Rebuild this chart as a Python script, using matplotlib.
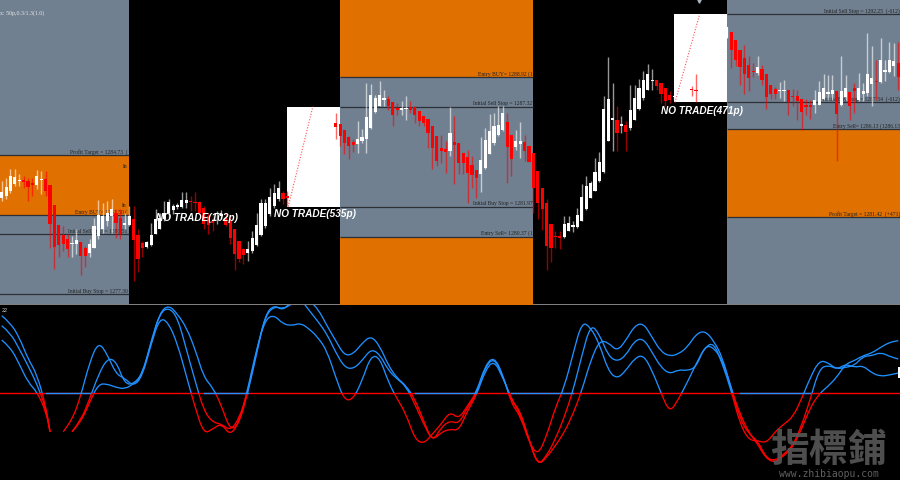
#!/usr/bin/env python3

import numpy as np
import matplotlib
matplotlib.use("Agg")
import matplotlib.pyplot as plt
from matplotlib.patches import PathPatch, Rectangle
from matplotlib.path import Path

nan = float("nan")

# candles, one entry per bar (nan = bar hidden behind the white NO TRADE boxes)
opens = [
    1282.41, 1282.54, 1282.80, 1283.19, 1283.32, 1283.41, 1283.35, 1283.23, 1283.14, 1283.39,
    1283.42, 1283.10, 1282.07, 1280.97, 1280.47, 1280.23, 1279.96, 1279.96, 1280.08, 1279.73,
    1279.51, 1279.73, 1280.40, 1280.76, 1281.20, 1281.47, 1281.65, 1281.38, 1280.99, 1281.01,
    1281.29, 1280.47, 1280.01, 1279.83, 1279.94, 1280.49, 1280.76, 1281.29, 1281.65, 1281.79,
    1281.95, 1281.97, 1282.14, 1282.25, 1282.22, 1282.22, 1281.91, 1281.47, 1281.20, 1281.56,
    1281.47, 1281.38, 1281.20, 1280.76, 1280.14, 1279.69, 1279.48, 1279.59, 1279.92, 1280.44,
    1280.94, 1281.56, 1282.00, 1282.36, 1282.68, 1282.54,
    nan, nan, nan, nan, nan, nan, nan, nan, nan, nan,
    1286.45, 1286.39, 1286.05, 1285.70, 1285.45, 1285.34, 1285.47, 1285.59, 1286.16, 1287.01,
    1287.37, 1287.65, 1287.72, 1287.56, 1287.24, 1287.16, 1287.19, 1287.28, 1287.28, 1287.07,
    1286.84, 1286.66, 1286.30, 1285.72, 1285.08, 1285.04, 1284.93, 1285.45, 1285.36, 1284.85,
    1284.60, 1284.19, 1283.94, 1283.69, 1284.05, 1284.76, 1285.36, 1285.79, 1286.04, 1286.52,
    1285.82, 1285.15, 1285.31, 1285.43, 1285.22, 1284.81, 1283.89, 1282.94, 1282.14, 1281.03,
    1280.39, 1280.40, 1280.35, 1280.67, 1280.88, 1280.88, 1281.20, 1281.82, 1282.41, 1282.80,
    1283.34, 1283.82, 1285.47, 1286.61, 1286.62, 1286.27, 1286.36, 1286.16, 1286.62, 1287.19,
    1287.76, 1288.22, 1288.67, 1288.72, 1288.58, 1288.31, 1287.94, 1287.83,
    nan, nan, nan, 1288.26, 1288.22, nan, nan, nan, nan, nan, nan,
    1290.98, 1291.33, 1290.89, 1290.35, 1289.91, 1289.55, 1289.22, 1289.11, 1289.34, 1289.08,
    1288.45, 1288.28, 1288.13, 1288.15, 1288.22, 1287.90, 1287.90, 1287.74, 1287.40, 1287.39,
    1287.40, 1287.42, 1287.74, 1288.01, 1288.01, 1288.15, 1287.42, 1287.83, 1288.12, 1288.31,
    1287.69, 1288.01, 1288.04, 1288.54, 1288.70, 1288.65, 1289.18, 1289.15, 1289.47, 1289.64,
]
closes = [
    1282.75, 1283.03, 1283.60, 1283.55, 1283.41, 1283.28, 1283.03, 1283.12, 1283.60, 1283.46,
    1282.78, 1281.03, 1279.82, 1279.91, 1279.96, 1279.69, 1280.01, 1280.19, 1279.32, 1279.35,
    1279.99, 1280.94, 1281.51, 1281.47, 1281.65, 1281.86, 1281.08, 1280.49, 1281.06, 1281.47,
    1280.19, 1279.19, 1279.73, 1280.08, 1280.47, 1281.33, 1281.38, 1281.65, 1282.22, 1282.00,
    1282.00, 1282.32, 1282.32, 1282.20, 1282.16, 1281.65, 1281.03, 1280.97, 1281.11, 1281.65,
    1281.56, 1280.97, 1280.31, 1279.43, 1279.19, 1279.39, 1279.69, 1280.28, 1280.99, 1282.18,
    1282.18, 1282.50, 1282.71, 1282.94, 1282.39, 1282.41,
    nan, nan, nan, nan, nan, nan, nan, nan, nan, nan,
    1286.25, 1285.73, 1285.38, 1285.20, 1285.27, 1285.61, 1285.70, 1286.76, 1287.96, 1287.76,
    1287.96, 1287.78, 1287.37, 1286.89, 1287.12, 1287.23, 1287.26, 1287.16, 1286.89, 1286.57,
    1286.45, 1285.91, 1285.11, 1284.40, 1284.93, 1284.88, 1285.91, 1285.25, 1284.29, 1284.31,
    1283.76, 1283.66, 1283.48, 1284.44, 1285.52, 1286.02, 1286.27, 1286.34, 1286.98, 1285.18,
    1284.49, 1285.50, 1285.50, 1284.97, 1284.35, 1282.96, 1282.18, 1281.82, 1279.85, 1279.75,
    1280.33, 1280.31, 1281.03, 1281.11, 1280.97, 1281.50, 1282.46, 1283.07, 1283.25, 1283.83,
    1284.35, 1287.21, 1287.72, 1286.68, 1285.91, 1286.41, 1285.98, 1287.12, 1287.78, 1288.31,
    1288.76, 1289.08, 1288.76, 1288.40, 1288.01, 1287.60, 1287.69, 1287.88,
    nan, nan, nan, 1288.19, 1288.13, nan, nan, nan, nan, nan, nan,
    1291.56, 1290.35, 1289.79, 1289.43, 1289.08, 1288.84, 1289.15, 1289.43, 1288.76, 1287.83,
    1288.01, 1288.01, 1288.22, 1288.22, 1287.58, 1287.83, 1287.60, 1287.03, 1287.30, 1287.28,
    1287.65, 1288.12, 1288.31, 1288.04, 1288.22, 1286.91, 1288.13, 1288.33, 1287.37, 1288.13,
    1288.33, 1288.15, 1289.08, 1288.83, 1288.63, 1289.82, 1289.25, 1289.79, 1289.77, 1288.90,
]
highs = [
    1283.34, 1283.51, 1283.99, 1283.96, 1283.69, 1283.60, 1283.51, 1283.51, 1283.92, 1283.87,
    1283.87, 1283.10, 1282.07, 1280.97, 1280.94, 1280.49, 1280.40, 1280.76, 1280.08, 1279.87,
    1280.23, 1281.38, 1282.32, 1282.18, 1282.27, 1282.36, 1281.82, 1281.82, 1281.65, 1282.00,
    1282.00, 1280.76, 1280.14, 1280.14, 1281.08, 1281.82, 1281.65, 1282.27, 1282.36, 1282.09,
    1282.18, 1282.77, 1282.75, 1282.54, 1282.75, 1282.27, 1282.00, 1281.65, 1281.47, 1281.74,
    1281.79, 1281.65, 1281.47, 1280.76, 1280.14, 1279.78, 1280.14, 1280.67, 1281.61, 1282.36,
    1282.36, 1282.98, 1283.16, 1283.34, 1282.80, 1282.80,
    nan, nan, nan, nan, nan, nan, nan, nan, nan, nan,
    1286.98, 1286.39, 1286.05, 1285.73, 1285.56, 1286.53, 1286.13, 1288.58, 1288.52, 1287.96,
    1288.70, 1288.22, 1287.87, 1287.56, 1287.51, 1287.60, 1287.87, 1287.60, 1287.33, 1287.07,
    1286.84, 1286.66, 1286.30, 1285.72, 1285.82, 1285.47, 1287.28, 1286.84, 1285.36, 1284.85,
    1285.02, 1284.67, 1283.94, 1285.68, 1286.18, 1286.94, 1286.98, 1287.33, 1287.37, 1286.98,
    1285.82, 1286.09, 1286.48, 1285.82, 1285.22, 1284.81, 1283.89, 1282.94, 1282.36, 1281.03,
    1280.67, 1280.67, 1281.47, 1281.47, 1281.20, 1281.91, 1283.16, 1283.60, 1283.34, 1284.58,
    1284.88, 1287.87, 1289.96, 1288.58, 1287.33, 1286.80, 1286.53, 1288.49, 1288.49, 1288.81,
    1289.20, 1289.59, 1289.34, 1288.76, 1288.58, 1288.31, 1288.13, 1287.96,
    nan, nan, nan, 1288.40, 1289.08, nan, nan, nan, nan, nan, nan,
    1291.56, 1291.33, 1290.89, 1290.35, 1290.62, 1290.00, 1289.64, 1290.05, 1289.55, 1289.08,
    1288.45, 1288.36, 1288.61, 1288.76, 1288.22, 1288.26, 1288.22, 1287.74, 1287.72, 1287.69,
    1288.22, 1288.67, 1289.08, 1289.02, 1289.02, 1288.15, 1290.00, 1289.02, 1288.12, 1288.58,
    1289.11, 1288.58, 1291.24, 1290.57, 1289.82, 1290.98, 1289.82, 1290.80, 1290.71, 1290.80,
]
lows = [
    1282.27, 1282.36, 1282.71, 1283.07, 1283.07, 1282.98, 1282.27, 1282.54, 1282.89, 1282.62,
    1282.54, 1279.78, 1278.63, 1279.25, 1279.60, 1279.25, 1279.30, 1279.43, 1278.31, 1278.72,
    1279.25, 1279.73, 1280.26, 1280.58, 1280.94, 1280.58, 1280.31, 1280.23, 1280.76, 1280.94,
    1278.00, 1278.45, 1279.25, 1279.78, 1279.87, 1280.49, 1280.76, 1281.20, 1281.38, 1281.56,
    1281.82, 1281.91, 1281.91, 1281.74, 1281.74, 1281.56, 1280.76, 1280.49, 1280.67, 1281.03,
    1281.29, 1280.94, 1279.96, 1278.59, 1278.98, 1278.89, 1279.07, 1279.51, 1279.87, 1280.40,
    1280.85, 1281.47, 1281.91, 1282.27, 1282.09, 1282.00,
    nan, nan, nan, nan, nan, nan, nan, nan, nan, nan,
    1285.56, 1285.20, 1284.76, 1284.53, 1284.88, 1284.85, 1285.38, 1284.85, 1286.13, 1286.98,
    1287.33, 1287.33, 1287.16, 1286.27, 1286.89, 1286.89, 1286.62, 1286.98, 1286.45, 1286.27,
    1286.27, 1285.11, 1283.96, 1284.13, 1284.31, 1283.78, 1284.67, 1283.16, 1283.69, 1283.69,
    1282.18, 1282.98, 1282.41, 1282.77, 1283.96, 1284.76, 1285.29, 1285.73, 1286.00, 1283.21,
    1283.60, 1285.02, 1284.58, 1284.40, 1284.35, 1281.65, 1281.29, 1280.72, 1278.59, 1278.98,
    1279.78, 1279.69, 1280.31, 1280.67, 1280.63, 1280.85, 1281.20, 1281.79, 1282.41, 1282.80,
    1283.30, 1283.78, 1285.47, 1284.93, 1284.93, 1285.91, 1284.93, 1286.09, 1286.62, 1287.16,
    1287.69, 1288.22, 1288.22, 1288.22, 1287.51, 1287.33, 1287.51, 1287.69,
    nan, nan, nan, 1287.90, 1287.55, nan, nan, nan, nan, nan, nan,
    1290.98, 1289.38, 1289.47, 1288.49, 1288.01, 1288.13, 1288.90, 1289.02, 1288.49, 1287.19,
    1287.72, 1287.72, 1287.78, 1287.60, 1286.89, 1287.33, 1286.62, 1286.09, 1286.89, 1286.66,
    1286.98, 1287.42, 1287.69, 1287.69, 1287.69, 1284.40, 1287.37, 1287.69, 1286.59, 1286.98,
    1287.60, 1287.60, 1287.87, 1287.37, 1287.69, 1288.58, 1288.67, 1289.11, 1288.93, 1288.22,
]

# oscillator, read every second bar (bar 11 is where the lines run out at the gap)
osc_bars = sorted(list(range(0, 205, 2)) + [11])
osc_fast = [
    158, 136, 86, 31, 3, -54, -117, nan, -117, -84, -9, 91, 153, 116, 56, 43, 19, 49, 146, 226,
    209, 146, 51, -44, -124, -109, -92, -129, -89, 11, 131, 221, 233, 206, 201, 209, 191, 165,
    126, 46, -24, -19, 36, 111, 106, 31, -19, -64, -139, -154, -124, -94, -57, -79, -39, 0, 81,
    109, 56, -34, -69, -149, -189, -129, -44, 16, 116, 213, 196, 146, 66, 41, 66, 103, 114, 66,
    0, -61, -19, 31, 86, 136, 151, 86, 6, -94, -142, -144, -151, -117, -94, -74, -19, 46, 96,
    91, 69, 86, 76, 81, 59, 49, 53, 59,
]
osc_mid = [
    201, 179, 131, 81, 26, -44, -117, nan, nan, -117, -84, -19, 53, 103, 96, 26, 26, 53, 151, 239,
    256, 226, 131, 36, -54, -89, -94, -114, -79, 1, 126, 231, 259, 251, 266, 281, 246, 213,
    176, 121, 76, 71, 96, 131, 116, 66, 41, 19, -34, -94, -144, -119, -109, -114, -54, -9, 66,
    98, 46, -19, -64, -139, -219, -189, -139, -74, 6, 111, 206, 176, 111, 93, 111, 156, 163, 121,
    76, 56, 69, 66, 76, 141, 136, 96, 16, -79, -124, -144, -197, -204, -184, -159, -99, -19, 71,
    83, 71, 76, 81, 109, 111, 121, 109, 101,
]
osc_slow = [
    231, 209, 166, 101, 56, -39, -117, nan, nan, -117, -89, -29, 26, 26, 16, 11, 26, 56, 153, 241,
    263, 236, 196, 131, 46, 16, -39, -114, -94, -1, 116, 236, 263, 246, 276, 286, 276, 251,
    201, 156, 111, 116, 148, 171, 141, 81, 43, 21, -19, -84, -149, -104, -84, -94, -44, -4, 76,
    106, 51, -24, -54, -144, -219, -194, -159, -119, -64, 6, 96, 156, 151, 124, 156, 201, 209, 166,
    123, 109, 116, 136, 176, 186, 156, 106, 11, -64, -119, -154, -199, -209, -189, -164, -109, -44, -4,
    19, 46, 86, 96, 111, 119, 136, 151, 156,
]

# zones: (first bar, last bar)
black_panes = [(29, 77), (121, 165)]
orange_zones = [(-1, 29, 1281.50, 1284.73), (77, 121, 1288.92, 1293.10), (77, 121, 1276.70, 1280.37),
                (165, 205, 1281.42, 1286.13)]
box_bars = [(65, 77, 1281.97, 1287.32), (153, 165, 1287.54, 1292.25)]
level_bars = [(-1, 29), (77, 121), (165, 205)]
levels = [
    [1284.73, 1281.50, 1280.51, 1277.30],
    [1288.92, 1287.32, 1281.97, 1280.37],
    [1292.25, 1287.54, 1286.13, 1281.42],
]
level_labels = [
    ["Profit Target = 1284.73  (", "Entry BUY= 1281.50 (", "Initial Sell Stop = 1280.51", "Initial Buy Stop = 1277.30"],
    ["Entry BUY= 1288.92 (1", "Initial Sell Stop = 1287.32", "Initial Buy Stop = 1281.97", "Entry Sell= 1280.37 (1"],
    ["Initial Sell Stop = 1292.25  (-612)", "Initial Buy Stop = 1287.54  (-612)", "Entry Sell= 1286.13 (1286.13",
     "Profit Target = 1281.42  (+471)"],
]
label_right = [28.6, 120.8, 204.4]
no_trade = [("NO TRADE(102p)", 35.2, 1281.40), ("NO TRADE(535p)", 62.0, 1281.65), ("NO TRADE(471p)", 150.0, 1287.15)]

GREY = "#708090"
ORANGE = "#e07000"
RED = "#ff0000"
BLUE = "#1e90ff"
LINE = "#2c3036"


def smooth_patch(x, y, color):
    # rounded line through the read values, split where a value is missing
    verts, codes = [], []
    pts = [(a, b) for a, b in zip(x, y)]
    run = []
    for p in pts + [(0, nan)]:
        if np.isnan(p[1]):
            if len(run) > 1:
                verts.append(run[0])
                codes.append(Path.MOVETO)
                for k in range(1, len(run) - 1):
                    mid = ((run[k][0] + run[k + 1][0]) / 2, (run[k][1] + run[k + 1][1]) / 2)
                    verts += [run[k], mid]
                    codes += [Path.CURVE3, Path.CURVE3]
                verts.append(run[-1])
                codes.append(Path.LINETO)
            run = []
        else:
            run.append(p)
    return PathPatch(Path(verts, codes), fill=False, edgecolor=color, lw=0.95)


fig = plt.figure(figsize=(9, 4.81), dpi=100, facecolor="#808080")
ax = fig.add_axes([0, 1 - 305 / 481, 1, 304 / 481])
osc = fig.add_axes([0, 0, 1, 175 / 481])

bars = np.arange(len(opens))
opens = np.array(opens)
closes = np.array(closes)
highs = np.array(highs)
lows = np.array(lows)
up = closes >= opens
colors = np.where(up, "white", RED)

# price pane
ax.set_xlim(-0.387, 204.4)
ax.set_ylim(1276.76, 1293.02)
ax.axis("off")
ax.axvspan(-1, 206, color=GREY, lw=0, zorder=0)
for x0, x1 in black_panes:
    ax.axvspan(x0, x1, color="black", lw=0, zorder=1)
for x0, x1, lo, hi in orange_zones:
    ax.fill_between([x0, x1], lo, hi, color=ORANGE, lw=0, zorder=1)
for x0, x1, lo, hi in box_bars:
    ax.fill_between([x0, x1], lo, hi, color="white", lw=0, zorder=1.5)
    ax.plot([x0 + 0.2, x0 + 5.8], [lo, hi], color="#ff5050", lw=0.8, ls=(0, (1, 1.5)), zorder=2)

for (x0, x1), lv, labels, right in zip(level_bars, levels, level_labels, label_right):
    ax.hlines(lv, x0, x1, color=LINE, lw=0.9, zorder=2)
    for price, label in zip(lv, labels):
        ax.text(right, price + 0.06, label, family="Liberation Serif", fontsize=4.1, color="#222222",
                ha="right", va="bottom", zorder=2, clip_on=True)
ax.text(28.6, 1284.08, "In", family="Liberation Serif", fontsize=4.1, color="#222222", ha="right", zorder=2)
ax.text(28.4, 1282.0, "In", family="Liberation Serif", fontsize=4.1, color="#222222", ha="right", zorder=2)

for i in bars[~np.isnan(opens)]:
    ax.vlines(i, lows[i], highs[i], color=colors[i], lw=1.0, alpha=0.6, zorder=3)
body = np.maximum(np.abs(closes - opens), 0.08)
ax.bar(bars, body, bottom=np.minimum(opens, closes), width=0.72, color=colors, lw=0, zorder=4)

for label, x, y in no_trade:
    ax.text(x, y, label, family="Liberation Sans", style="italic", weight="bold", fontsize=7.2,
            color="white", va="center", zorder=6)
ax.text(-0.3, 1292.38, "x: 50p,0.3/1.3(1.0)", family="Liberation Serif", fontsize=4.2, color="#e8e8e8",
        va="center", zorder=6)
ax.plot([158.6], [1292.98], marker="v", ms=2.4, color="#aab4c0", lw=0, clip_on=False, zorder=6)

# oscillator pane: each line is blue above the zero line and red below it
osc.set_facecolor("black")
osc.set_xlim(-0.387, 204.4)
osc.set_ylim(-262, 263)
osc_lines = [np.array(v, dtype=float) for v in (osc_fast, osc_mid, osc_slow)]
for v in osc_lines:
    low_part = smooth_patch(osc_bars, v, RED)
    low_part.set_zorder(2)
    osc.add_patch(low_part)
    low_part.set_clip_path(Rectangle((-1, -262), 206, 262, transform=osc.transData))
zero_line = osc.axhline(0, color=RED, lw=1.0, zorder=3)
zero_line.set_snap(True)
for v in osc_lines:
    high_part = smooth_patch(osc_bars, v, BLUE)
    high_part.set_zorder(4)
    osc.add_patch(high_part)
    high_part.set_clip_path(Rectangle((-1, 0), 206, 263, transform=osc.transData))
mid_line = np.median(np.nan_to_num(np.array(osc_lines), nan=-100), axis=0)
below = mid_line <= 0
below = below | np.roll(below, 1) & (mid_line < 20)
blue_zero, = osc.plot(osc_bars, np.where(below, 0, nan), color=BLUE, lw=1.0, zorder=5)
blue_zero.set_snap(True)
osc.text(0, 250, "22", fontsize=4, color="#cccccc", va="center", family="Liberation Sans")
osc.barh(60, 2, left=204, height=34, color="white", zorder=5)
osc.set_xticks([])
osc.set_yticks([])
for s in osc.spines.values():
    s.set_visible(False)

# watermark
fig.text(829 / 900, 1 - 451 / 481, "指標鋪", family="Noto Sans CJK TC", weight="bold", fontsize=28,
         color="#555555", alpha=0.92, ha="center", va="center", zorder=10)
fig.text(829 / 900, 1 - 474 / 481, "www.zhibiaopu.com", family="DejaVu Sans Mono", fontsize=7.0,
         color="#606060", ha="center", va="center", zorder=10)

fig.savefig("out.png", dpi=100, facecolor=fig.get_facecolor())
print("Saved plot to out.png")
